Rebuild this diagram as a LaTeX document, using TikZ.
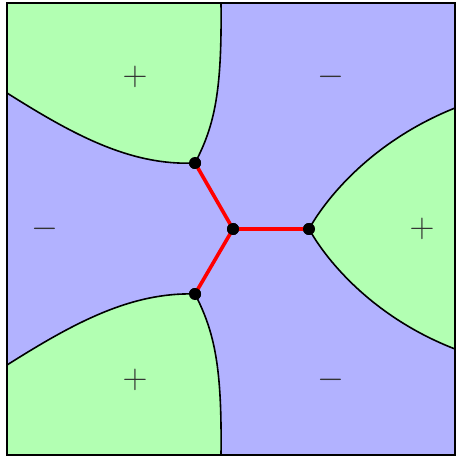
\documentclass[tikz,border=0pt]{standalone}
\usepackage{amsmath}

\tikzset{
  dot/.style={circle,fill=black,inner sep=0pt,minimum size=6pt},
  sign/.style={font=\LARGE,text=black!80},
  cut/.style={line width=1.8pt,red},
  rim/.style={line width=0.8pt,black}
}

\begin{document}
\begin{tikzpicture}[x=0.5pt,y=-0.5pt]
\useasboundingbox (0,0) rectangle (456,458);
% background and regions
\fill[blue!30] (7,3) rectangle (455,455);
\coordinate (tl) at (7,3); \coordinate (bl) at (7,455);
\node[dot] (c) at (233,229) {}; \node[dot] (a) at (195,163) {};
\node[dot] (b) at (195,294) {}; \node[dot] (d) at (309,229) {};
\fill[green!30] (tl) -- (221,3) .. controls (222,90) and (215,125) .. (a.center)
  .. controls (130,166) and (72,134) .. (7,93) -- cycle;
\fill[green!30] (bl) -- (221,455) .. controls (222,368) and (215,333) .. (b.center)
  .. controls (130,292) and (72,324) .. (7,365) -- cycle;
\fill[green!30] (455,108) .. controls (375,140) and (328,195) .. (d.center)
  .. controls (328,263) and (375,318) .. (455,349) -- cycle;
\draw[rim] (221,3) .. controls (222,90) and (215,125) .. (a.center)
  .. controls (130,166) and (72,134) .. (7,93);
\draw[rim] (221,455) .. controls (222,368) and (215,333) .. (b.center)
  .. controls (130,292) and (72,324) .. (7,365);
\draw[rim] (455,108) .. controls (375,140) and (328,195) .. (d.center)
  .. controls (328,263) and (375,318) .. (455,349);
% cuts
\draw[cut] (c.center) -- (a.center); \draw[cut] (c.center) -- (b.center); \draw[cut] (c.center) -- (d.center);
\node[dot] at (c) {}; \node[dot] at (a) {}; \node[dot] at (b) {}; \node[dot] at (d) {};
% signs
\node[sign] (p1) at (135,77) {$+$}; \node[sign] (p2) at (422,229) {$+$}; \node[sign] (p3) at (135,380) {$+$};
\node[sign] (m1) at (331,77) {$-$}; \node[sign] (m2) at (45,229) {$-$}; \node[sign] (m3) at (331,380) {$-$};
\draw[rim] (7,3) rectangle (455,455);
\end{tikzpicture}
\end{document}
